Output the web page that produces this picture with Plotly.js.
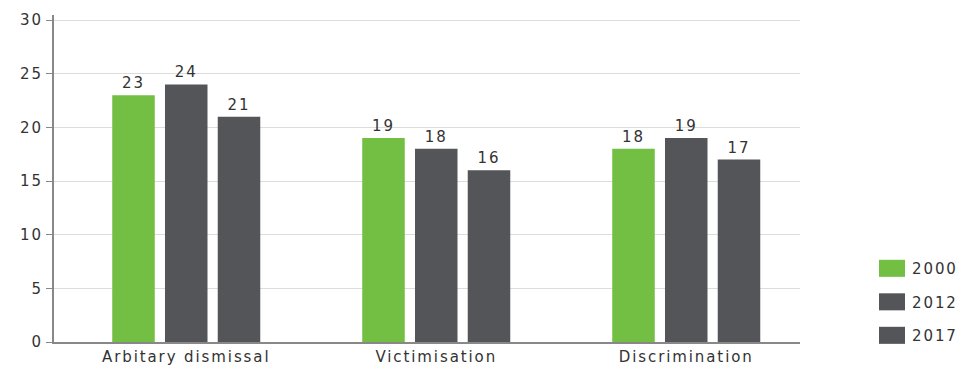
<!DOCTYPE html>
<html><head><meta charset="utf-8">
<script src="https://cdn.plot.ly/plotly-3.0.1.min.js"></script>
<style>html,body{margin:0;padding:0;background:#fff}#chart{width:971px;height:365px}
#chart svg text{letter-spacing:1.9px}
#chart .legendpoints path{transform:translate(20px,0px) scale(2.17,1.42)}</style>
</head><body><div id="chart"></div>
<script>
const categories = ["Arbitary dismissal", "Victimisation", "Discrimination"];
const seriesNames = ["2000", "2012", "2017"];
const values2000 = [23, 19, 18];
const values2012 = [24, 18, 19];
const values2017 = [21, 16, 17];
const colors = ["#72bf44", "#545559", "#545559"];
const yTicks = [0, 5, 10, 15, 20, 25, 30];

const allValues = [values2000, values2012, values2017];
const font = {family: "'DejaVu Sans', sans-serif", color: "#333333"};
const traces = allValues.map((v, i) => ({
  type: "bar", x: categories, y: v, name: seriesNames[i],
  marker: {color: colors[i]}, text: v.map(String), textposition: "outside",
  textfont: {size: 15, color: "#333333", family: font.family}, cliponaxis: false,
  legendgroup: "g" + i
}));
const layout = {
  width: 971, height: 365,
  margin: {l: 54, r: 171, t: 15, b: 23},
  paper_bgcolor: "#fff", plot_bgcolor: "#fff",
  barmode: "group", bargap: 0.367, bargroupgap: 0.194,
  font: {family: font.family, size: 15, color: font.color},
  xaxis: {range: [-0.529, 2.455], showline: true, linecolor: "#888", linewidth: 2,
    ticks: "", showgrid: false, tickfont: {size: 15}, fixedrange: true},
  yaxis: {range: [0, 30.47], tickvals: yTicks, showline: true, linecolor: "#888", linewidth: 2,
    ticks: "outside", ticklen: 6, tickcolor: "#888", gridcolor: "#dcdcdc", gridwidth: 1,
    zeroline: false, tickfont: {size: 15}},
  showlegend: true,
  legend: {x: 1.0965, xanchor: "left", y: 0.275, yanchor: "top", traceorder: "grouped",
    tracegroupgap: 11, font: {size: 15}, itemwidth: 30},
};
Plotly.newPlot("chart", traces, layout, {displayModeBar: false, staticPlot: true});
</script></body></html>
